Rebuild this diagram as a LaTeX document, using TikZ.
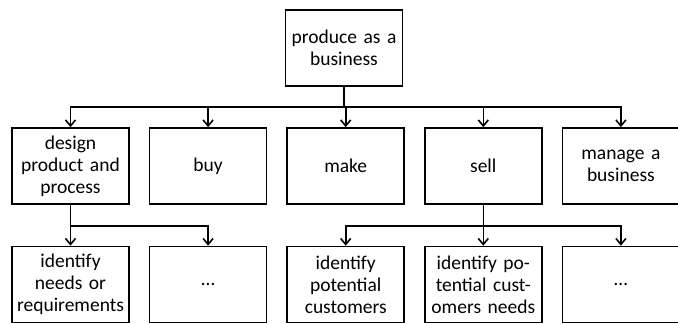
\documentclass[tikz,border=0pt]{standalone}
\usepackage{fontspec}
\setmainfont{Carlito}
\usetikzlibrary{positioning,arrows.meta}
\tikzset{
    task-box/.style = {draw=black, fill=white, line width=1.6pt, rectangle, minimum width=117pt, minimum height=76pt, text width=114pt, align=center, font=\fontsize{19.5}{22}\selectfont, inner sep=0pt},
    tree-line/.style = {line width=1.6pt},
    tree-arrow/.style = {tree-line, -{Straight Barb[length=6pt,width=10pt,line width=1.6pt]}},
}

\begin{document}
\begin{tikzpicture}
\useasboundingbox (0pt,0pt) rectangle (678pt,324pt);
\node [task-box] (produce) at (344pt,276pt) {produce as a\\business};
% second level
\node [task-box] (design) at (70.5pt,158pt) {design\\product and\\process};
\node [task-box, right=19pt of design] (buy) {buy};
\node [task-box, right=19pt of buy] (make) {make};
\node [task-box, right=19pt of make] (sell) {sell};
\node [task-box, right=19pt of sell] (manage) {manage a\\business};
% third level
\node [task-box] (needs) at (70.5pt,39.5pt) {identify\\needs or\\requirements};
\node [task-box, right=19pt of needs] (design-more) {\dots};
\node [task-box, right=19pt of design-more] (customers) {identify\\potential\\customers};
\node [task-box, right=19pt of customers] (customer-needs) {identify po-\\tential cust-\\omers needs};
\node [task-box, right=19pt of customer-needs] (sell-more) {\dots};

\coordinate (produce-split) at (produce.south |- 0,217pt);
\coordinate (design-split) at (design.south |- 0,98pt);
\coordinate (sell-split) at (sell.south |- 0,98pt);

\draw [tree-line] (produce.south) -- (produce-split);
\foreach \n in {design,buy,make,sell,manage}
    \draw [tree-arrow] (produce-split) -| (\n.north);
\draw [tree-line] (design.south) -- (design-split);
\foreach \n in {needs,design-more}
    \draw [tree-arrow] (design-split) -| (\n.north);
\draw [tree-line] (sell.south) -- (sell-split);
\foreach \n in {customers,customer-needs,sell-more}
    \draw [tree-arrow] (sell-split) -| (\n.north);
\end{tikzpicture}
\end{document}
